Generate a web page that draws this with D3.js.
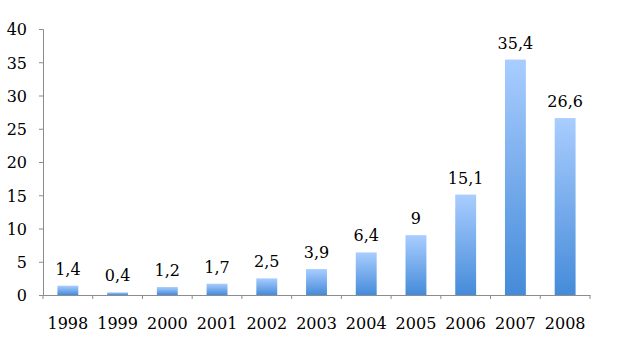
<!DOCTYPE html>
<html>
<head>
<meta charset="utf-8">
<script src="https://cdn.jsdelivr.net/npm/d3@7"></script>
<style>
  html, body { margin: 0; padding: 0; background: #fff; }
  svg text { font-family: "DejaVu Serif", Cambria, serif; fill: #000; }
</style>
</head>
<body>
<div id="chart"></div>
<script>
// Chart data
const years = ['1998', '1999', '2000', '2001', '2002', '2003', '2004', '2005', '2006', '2007', '2008'];
const values = [1.4, 0.4, 1.2, 1.7, 2.5, 3.9, 6.4, 9, 15.1, 35.4, 26.6];
const yTicks = [0, 5, 10, 15, 20, 25, 30, 35, 40];

const width = 623;
const height = 352;
const margin = { top: 29, right: 33, bottom: 57, left: 43 };

const svg = d3.select('#chart')
    .append('svg')
    .attr('width', width)
    .attr('height', height);

// Gradient for bars (light top, darker bottom)
const defs = svg.append('defs');
const grad = defs.append('linearGradient')
    .attr('id', 'barGrad')
    .attr('x1', 0).attr('y1', 0)
    .attr('x2', 0).attr('y2', 1);
grad.append('stop').attr('offset', '0%').attr('stop-color', '#a9cdff');
grad.append('stop').attr('offset', '100%').attr('stop-color', '#458bd9');

const x = d3.scaleBand()
    .domain(years)
    .range([margin.left, width - margin.right])
    .paddingInner(0.58)
    .paddingOuter(0.29);

const y = d3.scaleLinear()
    .domain([0, 40])
    .range([height - margin.bottom, margin.top]);

// Bars
svg.selectAll('.bar')
    .data(values)
    .enter()
    .append('rect')
    .attr('class', 'bar')
    .attr('x', (d, i) => x(years[i]))
    .attr('y', d => y(d))
    .attr('width', x.bandwidth())
    .attr('height', d => y(0) - y(d))
    .style('fill', 'url(#barGrad)');

// Value labels
svg.selectAll('.val')
    .data(values)
    .enter()
    .append('text')
    .attr('class', 'val')
    .attr('x', (d, i) => x(years[i]) + x.bandwidth() / 2)
    .attr('y', d => y(d) - 11)
    .attr('text-anchor', 'middle')
    .style('font-size', '16px')
    .text(d => String(d).replace('.', ','));

// Y axis
const yAxis = svg.append('g')
    .attr('transform', `translate(${margin.left},0)`)
    .call(d3.axisLeft(y).tickValues(yTicks).tickSize(4).tickPadding(12));
yAxis.selectAll('text').style('font-size', '16px').attr('dy', '0.36em');

// X axis with tick marks between categories
const xAxis = svg.append('g')
    .attr('transform', `translate(0,${y(0)})`)
    .call(d3.axisBottom(x).tickSize(0).tickPadding(23));
xAxis.selectAll('text').style('font-size', '16px');

const bounds = d3.range(years.length + 1).map(i => margin.left + i * (width - margin.left - margin.right) / years.length);
xAxis.selectAll('.sep')
    .data(bounds)
    .enter()
    .append('line')
    .attr('class', 'sep')
    .attr('x1', d => d).attr('x2', d => d)
    .attr('y1', 0).attr('y2', 4);

svg.selectAll('.domain, .tick line, .sep')
    .style('stroke', '#8c8c8c')
    .style('stroke-width', 1);
</script>
</body>
</html>
